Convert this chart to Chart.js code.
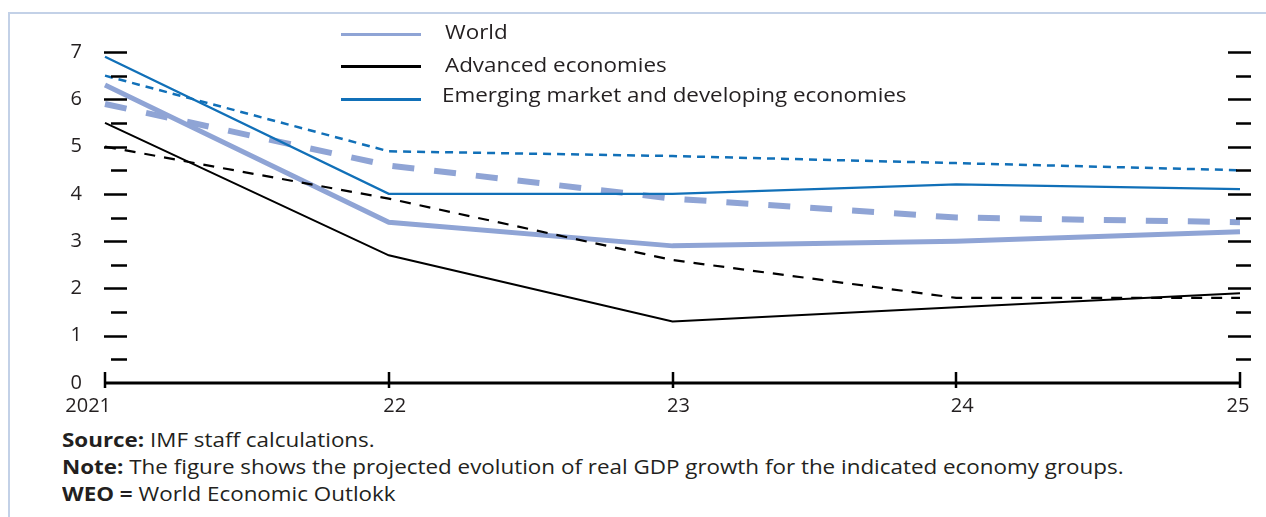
<!DOCTYPE html>
<html>
<head>
<meta charset="utf-8">
<script src="https://cdn.jsdelivr.net/npm/chart.js@4.4.1/dist/chart.umd.min.js"></script>
<style>
  body { margin: 0; background: #fff; font-family: 'Open Sans', sans-serif; color: #231f20; }
  #wrap { position: relative; width: 1266px; height: 517px; overflow: hidden; }
  #frame { position: absolute; left: 8px; top: 12px; right: -4px; bottom: -4px;
           border-left: 2px solid #c3d1e7; border-top: 2px solid #c3d1e7; }
  #box { position: absolute; left: 0; top: 0; width: 1266px; height: 420px; }
  .legline { position: absolute; left: 341px; width: 80px; height: 3px; }
  .legtext { position: absolute; font-size: 20px; line-height: 24px; white-space: nowrap;
             transform: scaleX(1.12); transform-origin: 0 0; }
  #notes { position: absolute; left: 62px; top: 426px; font-size: 20px; line-height: 27px;
           white-space: nowrap; transform: scaleX(1.12); transform-origin: 0 0; }
  #notes b { font-weight: 700; }
</style>
</head>
<body>
<div id="wrap">
  <div id="frame"></div>
  <div id="box"><canvas id="growthChart"></canvas></div>
  <div id="legend"></div>
  <div id="notes">
    <div><b>Source:</b> IMF staff calculations.</div>
    <div><b>Note:</b> The figure shows the projected evolution of real GDP growth for the indicated economy groups.</div>
    <div><b>WEO =</b> World Economic Outlokk</div>
  </div>
</div>
<script>
const years = ['2021', '22', '23', '24', '25'];

// solid = current projection, dashed = earlier projection
const worldNow = [6.3, 3.4, 2.9, 3.0, 3.2];
const worldPrev = [5.9, 4.6, 3.9, 3.5, 3.4];
const advancedNow = [5.5, 2.7, 1.3, 1.6, 1.9];
const advancedPrev = [5.0, 3.9, 2.6, 1.8, 1.8];
const emdeNow = [6.9, 4.0, 4.0, 4.2, 4.1];
const emdePrev = [6.5, 4.9, 4.8, 4.65, 4.5];

const legendItems = [
    { label: 'World', color: '#8fa4d5' },
    { label: 'Advanced economies', color: '#000000' },
    { label: 'Emerging market and developing economies', color: '#1170b8' }
];

const LIGHT = '#8fa4d5';
const BLUE = '#1170b8';

// legend drawn as html, only the solid lines are listed
const legLineY = [33, 65, 98];
const legTextTop = [20, 53, 83];
const legTextX = [445, 445, 442];
let legendEl = document.getElementById('legend');
legendItems.forEach((item, i) => {
    let ln = document.createElement('div');
    ln.className = 'legline';
    ln.style.top = legLineY[i] + 'px';
    ln.style.background = item.color;
    legendEl.appendChild(ln);
    let tx = document.createElement('div');
    tx.className = 'legtext';
    tx.style.top = legTextTop[i] + 'px';
    tx.style.left = legTextX[i] + 'px';
    tx.textContent = item.label;
    legendEl.appendChild(tx);
});

// tick marks inside both edges, x axis with crossing ticks, year labels
const axisMarks = {
    id: 'axisMarks',
    afterDraw(chart) {
        const { ctx, chartArea: a, scales: { x, y } } = chart;
        ctx.save();
        ctx.strokeStyle = '#000';
        ctx.lineWidth = 2.5;
        ctx.beginPath();
        for (let v = 0.5; v <= 7; v += 0.5) {
            let py = Math.round(y.getPixelForValue(v)) + 0.5;
            let major = v % 1 === 0;
            ctx.moveTo(major ? a.left - 1 : a.left + 6, py);
            ctx.lineTo(a.left + 22, py);
            ctx.moveTo(major ? a.right - 12 : a.right - 4, py);
            ctx.lineTo(a.right + 11, py);
        }
        ctx.stroke();

        let y0 = Math.round(y.getPixelForValue(0));
        ctx.lineWidth = 3;
        ctx.beginPath();
        ctx.moveTo(a.left, y0);
        ctx.lineTo(a.right, y0);
        ctx.stroke();
        ctx.lineWidth = 2.5;
        ctx.beginPath();
        years.forEach((yr, i) => {
            let px = Math.round(x.getPixelForValue(i));
            ctx.moveTo(px, y0 - 11);
            ctx.lineTo(px, y0 + 5);
        });
        ctx.stroke();

        ctx.fillStyle = '#231f20';
        ctx.font = "20px 'Open Sans', sans-serif";
        ctx.textBaseline = 'alphabetic';
        years.forEach((yr, i) => {
            let px = x.getPixelForValue(i);
            if (i === 0) {
                ctx.textAlign = 'right';
                ctx.fillText(yr, px + 6, y0 + 29);
            } else if (i === years.length - 1) {
                ctx.textAlign = 'center';
                ctx.fillText(yr, px - 2, y0 + 29);
            } else {
                ctx.textAlign = 'center';
                ctx.fillText(yr, px + 6, y0 + 29);
            }
        });
        ctx.restore();
    }
};

function line(label, data, color, width, dash, order) {
    return {
        label: label,
        data: data,
        borderColor: color,
        backgroundColor: color,
        borderWidth: width,
        borderDash: dash,
        pointRadius: 0,
        tension: 0,
        fill: false,
        order: order
    };
}

Chart.defaults.font.family = "'Open Sans', sans-serif";
Chart.defaults.color = '#231f20';

new Chart(document.getElementById('growthChart'), {
    type: 'line',
    data: {
        labels: years,
        datasets: [
            line('Emerging market and developing economies', emdeNow, BLUE, 2.3, [], 1),
            line('EMDE (earlier)', emdePrev, BLUE, 2.5, [8, 6], 2),
            line('Advanced economies', advancedNow, '#000', 2, [], 3),
            line('Advanced (earlier)', advancedPrev, '#000', 2.2, [11, 9], 4),
            line('World', worldNow, LIGHT, 5, [], 5),
            line('World (earlier)', worldPrev, LIGHT, 6, [22, 20], 6)
        ]
    },
    options: {
        responsive: true,
        maintainAspectRatio: false,
        animation: false,
        layout: { padding: { top: 52, right: 26, left: 0, bottom: 0 } },
        plugins: { legend: { display: false }, tooltip: { enabled: false } },
        scales: {
            x: {
                grid: { display: false },
                border: { display: false },
                ticks: { display: false },
                afterFit: s => { s.height = 37; }
            },
            y: {
                min: 0,
                max: 7,
                grid: { display: false },
                border: { display: false },
                ticks: {
                    stepSize: 0.5,
                    autoSkip: false,
                    padding: 15,
                    font: { size: 20 },
                    callback: v => Number.isInteger(v) ? v : ''
                },
                afterFit: s => { s.width = 105; }
            }
        }
    },
    plugins: [axisMarks]
});
</script>
</body>
</html>
